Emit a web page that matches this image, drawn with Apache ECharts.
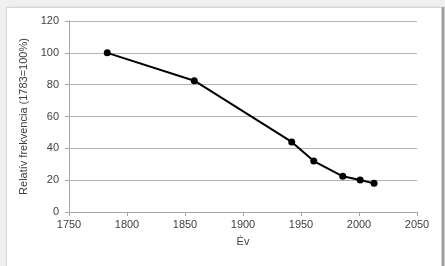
<!DOCTYPE html>
<html>
<head>
<meta charset="utf-8">
<script src="https://cdn.jsdelivr.net/npm/echarts@6/dist/echarts.min.js"></script>
<style>
    html, body {
        margin: 0;
        padding: 0;
        width: 445px;
        height: 266px;
        overflow: hidden;
        background: #f0f0f0;
    }
    .frame {
        position: absolute;
        left: 6px;
        top: 7px;
        width: 434px;
        height: 270px;
        background: #fff;
        border: 1px solid #d4d4d4;
        box-shadow: 2px 0 0 #9a9a9a, 4px 0 2px #cfcfcf;
    }
    #chart {
        position: absolute;
        left: 0;
        top: 0;
        width: 445px;
        height: 266px;
    }
</style>
</head>
<body>
<div class="frame"></div>
<div id="chart"></div>
<script>
    // adatok
    const years = [1783, 1858, 1942, 1961, 1986, 2001, 2013];
    const relFreq = [100, 82.5, 44, 32, 22.4, 20.1, 18];
    const xTitle = 'Év';
    const yTitle = 'Relatív frekvencia (1783=100%)';

    const font = 'Liberation Sans, Arial, sans-serif';
    let myChart = echarts.init(document.getElementById('chart'));

    let option = {
        animation: false,
        grid: {
            left: 69,
            right: 28,
            top: 21,
            bottom: 54,
            containLabel: false
        },
        xAxis: {
            type: 'value',
            min: 1750,
            max: 2050,
            interval: 50,
            name: xTitle,
            nameLocation: 'middle',
            nameGap: 24,
            nameTextStyle: {color: '#404040', fontSize: 11, fontFamily: font},
            axisLine: {show: true, lineStyle: {color: '#a6a6a6'}},
            axisTick: {show: true, length: 4, lineStyle: {color: '#a6a6a6'}},
            axisLabel: {color: '#404040', fontSize: 11, fontFamily: font, margin: 7,
                formatter: v => String(v)},
            splitLine: {show: false}
        },
        yAxis: {
            type: 'value',
            min: 0,
            max: 120,
            interval: 20,
            name: yTitle,
            nameLocation: 'middle',
            nameGap: 37,
            nameRotate: 90,
            nameTextStyle: {color: '#404040', fontSize: 11, fontFamily: font},
            axisLine: {show: true, lineStyle: {color: '#a6a6a6'}},
            axisTick: {show: true, length: 4, lineStyle: {color: '#a6a6a6'}},
            axisLabel: {color: '#404040', fontSize: 11, fontFamily: font, margin: 10},
            splitLine: {show: true, lineStyle: {color: '#b3b3b3'}}
        },
        series: [
            {
                type: 'line',
                data: years.map((y, i) => [y, relFreq[i]]),
                symbol: 'circle',
                symbolSize: 7,
                lineStyle: {color: '#000', width: 2},
                itemStyle: {color: '#000'}
            }
        ]
    };

    myChart.setOption(option);
</script>
</body>
</html>
